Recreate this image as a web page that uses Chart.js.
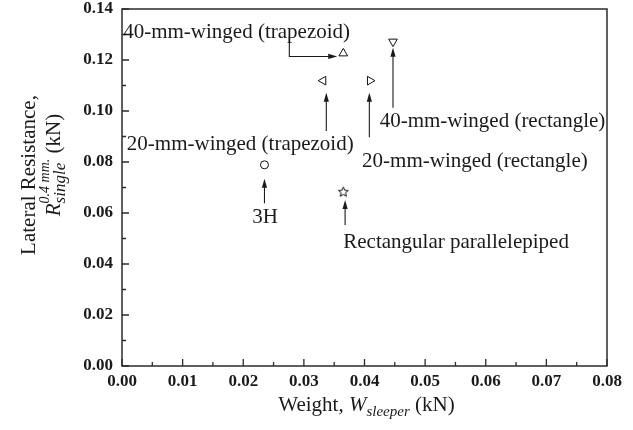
<!DOCTYPE html>
<html>
<head>
<meta charset="utf-8">
<script src="https://cdn.jsdelivr.net/npm/chart.js@4/dist/chart.umd.min.js"></script>
<style>
  html, body { margin: 0; padding: 0; background: #fff; }
  canvas { display: block; }
</style>
</head>
<body>
<canvas id="chart" width="633" height="430"></canvas>
<script>
// Sleeper types and their measured values
const sleeperTypes = [
  '3H',
  'Rectangular parallelepiped',
  '40-mm-winged (trapezoid)',
  '20-mm-winged (trapezoid)',
  '20-mm-winged (rectangle)',
  '40-mm-winged (rectangle)'
];
const sleeperWeight = [0.0235, 0.0365, 0.0365, 0.0332, 0.0409, 0.0447];       // kN
const lateralResistance = [0.0789, 0.0684, 0.1226, 0.1119, 0.1119, 0.1272];   // kN
const markerShapes = ['circle', 'star', 'triangle', 'triangle', 'triangle', 'triangle'];
const markerRotation = [0, 0, 0, 270, 90, 180];

// Axis tick values
const xTickValues = [0, 0.01, 0.02, 0.03, 0.04, 0.05, 0.06, 0.07, 0.08];
const yTickValues = [0, 0.02, 0.04, 0.06, 0.08, 0.10, 0.12, 0.14];

// Callout text placement (data units, alphabetic baseline)
const noteText = ['40-mm-winged (trapezoid)', '20-mm-winged (trapezoid)', '3H',
  'Rectangular parallelepiped', '40-mm-winged (rectangle)', '20-mm-winged (rectangle)'];
const noteX = [0.0002, 0.0008, 0.0236, 0.0365, 0.0425, 0.0396];
const noteY = [0.1286, 0.0848, 0.0561, 0.0461, 0.0939, 0.0782];
const noteAlign = ['left', 'left', 'center', 'left', 'left', 'left'];

// Callout arrows: polyline points in data units, the last point is the tip
const arrowPaths = [
  [[0.0235, 0.0638], [0.0235, 0.0734]],
  [[0.0368, 0.0553], [0.0368, 0.0651]],
  [[0.0337, 0.0922], [0.0337, 0.1072]],
  [[0.0408, 0.0897], [0.0408, 0.1072]],
  [[0.0447, 0.1013], [0.0447, 0.1248]],
  [[0.0276, 0.1292], [0.0276, 0.1214], [0.0355, 0.1214]]
];

const SERIF = '"Liberation Serif", "Times New Roman", serif';

// Five-pointed outline star used as a marker
function makeStar() {
  const c = document.createElement('canvas');
  c.width = 13; c.height = 13;
  const g = c.getContext('2d');
  g.strokeStyle = '#111';
  g.lineWidth = 1;
  g.beginPath();
  for (let i = 0; i < 10; i++) {
    const r = i % 2 === 0 ? 5.2 : 2.3;
    const a = -Math.PI / 2 + i * Math.PI / 5;
    const px = 6.5 + r * Math.cos(a), py = 7 + r * Math.sin(a);
    if (i === 0) g.moveTo(px, py); else g.lineTo(px, py);
  }
  g.closePath();
  g.stroke();
  return c;
}
const starImg = makeStar();

// Draws a run of text pieces; a piece may stack a superscript over a subscript
function drawRich(ctx, pieces, x, y) {
  const widths = pieces.map(p => {
    if (p.stack) {
      ctx.font = p.stack[0].font; const a = ctx.measureText(p.stack[0].t).width;
      ctx.font = p.stack[1].font; const b = ctx.measureText(p.stack[1].t).width;
      return Math.max(a, b);
    }
    ctx.font = p.font; return ctx.measureText(p.t).width;
  });
  const total = widths.reduce((s, w) => s + w, 0);
  let cx = x - total / 2;
  ctx.textAlign = 'left';
  ctx.textBaseline = 'alphabetic';
  pieces.forEach((p, i) => {
    if (p.stack) {
      p.stack.forEach(s => { ctx.font = s.font; ctx.fillText(s.t, cx, y + s.dy); });
    } else {
      ctx.font = p.font; ctx.fillText(p.t, cx, y + (p.dy || 0));
    }
    cx += widths[i];
  });
}

const annotationPlugin = {
  id: 'annotations',
  afterDatasetsDraw(chart) {
    const { ctx, chartArea: a, scales: { x, y } } = chart;
    ctx.save();

    // frame
    ctx.strokeStyle = '#2b2b2b';
    ctx.lineWidth = 1.5;
    ctx.strokeRect(a.left, a.top, a.right - a.left, a.bottom - a.top);

    // inward ticks, major and minor
    ctx.lineWidth = 1.3;
    ctx.beginPath();
    for (let v = 0; v <= 0.0801; v += 0.005) {
      const px = x.getPixelForValue(v);
      const major = Math.abs(Math.round(v * 100) - v * 100) < 1e-6;
      const len = major ? 7 : 4;
      ctx.moveTo(px, a.bottom); ctx.lineTo(px, a.bottom - len);
    }
    for (let v = 0; v <= 0.1401; v += 0.01) {
      const py = y.getPixelForValue(v);
      const major = Math.round(v * 100) % 2 === 0;
      const len = major ? 7 : 4;
      ctx.moveTo(a.left, py); ctx.lineTo(a.left + len, py);
    }
    ctx.stroke();

    // callout text
    ctx.fillStyle = '#1a1a1a';
    ctx.font = '21px ' + SERIF;
    ctx.textBaseline = 'alphabetic';
    noteText.forEach((t, i) => {
      ctx.textAlign = noteAlign[i];
      ctx.fillText(t, x.getPixelForValue(noteX[i]), y.getPixelForValue(noteY[i]));
    });

    // callout arrows
    ctx.strokeStyle = '#1a1a1a';
    ctx.lineWidth = 1.1;
    arrowPaths.forEach(path => {
      const pts = path.map(p => [x.getPixelForValue(p[0]), y.getPixelForValue(p[1])]);
      const n = pts.length;
      const [tx, ty] = pts[n - 1];
      const [sx, sy] = pts[n - 2];
      const ang = Math.atan2(ty - sy, tx - sx);
      const head = 9, half = 2.6;
      ctx.beginPath();
      ctx.moveTo(pts[0][0], pts[0][1]);
      for (let k = 1; k < n - 1; k++) ctx.lineTo(pts[k][0], pts[k][1]);
      ctx.lineTo(tx - Math.cos(ang) * head * 0.8, ty - Math.sin(ang) * head * 0.8);
      ctx.stroke();
      ctx.beginPath();
      ctx.moveTo(tx, ty);
      ctx.lineTo(tx - Math.cos(ang) * head - Math.sin(ang) * half, ty - Math.sin(ang) * head + Math.cos(ang) * half);
      ctx.lineTo(tx - Math.cos(ang) * head + Math.sin(ang) * half, ty - Math.sin(ang) * head - Math.cos(ang) * half);
      ctx.closePath();
      ctx.fill();
    });

    // x axis title
    ctx.fillStyle = '#1a1a1a';
    drawRich(ctx, [
      { t: 'Weight, ', font: '21px ' + SERIF },
      { t: 'W', font: 'italic 21px ' + SERIF },
      { t: 'sleeper', font: 'italic 15px ' + SERIF, dy: 5 },
      { t: ' (kN)', font: '21px ' + SERIF }
    ], (a.left + a.right) / 2 + 2, 411);

    // y axis title, two rotated lines
    ctx.save();
    ctx.translate(35, 175);
    ctx.rotate(-Math.PI / 2);
    drawRich(ctx, [{ t: 'Lateral Resistance,', font: '21px ' + SERIF }], 0, 0);
    ctx.restore();

    ctx.save();
    ctx.translate(60, 165);
    ctx.rotate(-Math.PI / 2);
    drawRich(ctx, [
      { t: 'R', font: 'italic 21px ' + SERIF },
      { stack: [
        { t: 'single', font: 'italic 17px ' + SERIF, dy: 5 },
        { t: '0.4 mm.', font: 'italic 14px ' + SERIF, dy: -11 }
      ] },
      { t: ' (kN)', font: '21px ' + SERIF }
    ], 0, 0);
    ctx.restore();

    ctx.restore();
  }
};

new Chart(document.getElementById('chart'), {
  type: 'scatter',
  data: {
    datasets: [{
      label: 'Lateral resistance',
      data: sleeperWeight.map((w, i) => ({ x: w, y: lateralResistance[i], name: sleeperTypes[i] })),
      pointStyle: markerShapes.map(s => s === 'star' ? starImg : s),
      rotation: markerRotation,
      pointRadius: markerShapes.map(s => s === 'circle' ? 4 : 5),
      borderColor: '#111',
      backgroundColor: 'rgba(255,255,255,0)',
      borderWidth: 1
    }]
  },
  options: {
    responsive: false,
    animation: false,
    devicePixelRatio: 1,
    layout: { padding: { top: 0, right: 26, bottom: 0, left: 0 } },
    plugins: { legend: { display: false }, tooltip: { enabled: false } },
    scales: {
      x: {
        type: 'linear', min: 0, max: 0.08,
        afterBuildTicks: s => { s.ticks = xTickValues.map(v => ({ value: v })); },
        afterFit: s => { s.height = 64; s.paddingLeft = 0; s.paddingRight = 0; },
        grid: { display: false, drawTicks: false, tickLength: 0 },
        border: { display: false },
        ticks: {
          padding: 7,
          color: '#1a1a1a',
          font: { family: SERIF, size: 17, weight: 'bold', lineHeight: 1 },
          callback: v => v.toFixed(2)
        }
      },
      y: {
        type: 'linear', min: 0, max: 0.14,
        afterBuildTicks: s => { s.ticks = yTickValues.map(v => ({ value: v })); },
        afterFit: s => { s.width = 122; s.paddingTop = 9; s.paddingBottom = 0; },
        grid: { display: false, drawTicks: false, tickLength: 0 },
        border: { display: false },
        ticks: {
          padding: 9,
          color: '#1a1a1a',
          font: { family: SERIF, size: 17, weight: 'bold', lineHeight: 1 },
          callback: v => v.toFixed(2)
        }
      }
    }
  },
  plugins: [annotationPlugin]
});
</script>
</body>
</html>
